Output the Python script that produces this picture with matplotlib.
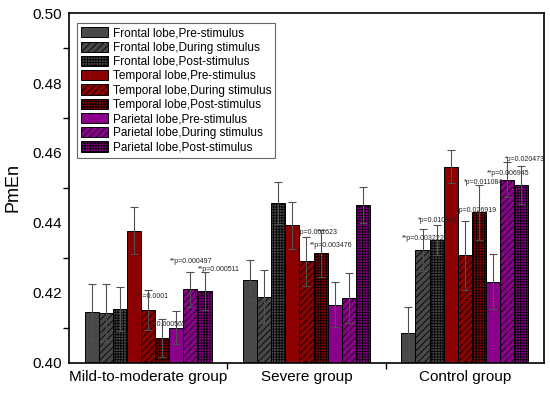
import matplotlib
matplotlib.use("Agg")
import matplotlib.pyplot as plt
import numpy as np
from matplotlib.ticker import MultipleLocator, FixedLocator

plt.rcParams['font.family'] = ['Liberation Sans', 'DejaVu Sans']
plt.rcParams['hatch.linewidth'] = 0.6

groups = ["Mild-to-moderate group", "Severe group", "Control group"]
series = ["Frontal lobe,Pre-stimulus", "Frontal lobe,During stimulus", "Frontal lobe,Post-stimulus",
          "Temporal lobe,Pre-stimulus", "Temporal lobe,During stimulus", "Temporal lobe,Post-stimulus",
          "Parietal lobe,Pre-stimulus", "Parietal lobe,During stimulus", "Parietal lobe,Post-stimulus"]

# rows = series, columns = groups
mild = [0.4147, 0.4144, 0.4154, 0.4378, 0.4151, 0.4072, 0.4101, 0.4211, 0.4205]
mild_err = [0.0080, 0.0083, 0.0062, 0.0068, 0.0058, 0.0055, 0.0048, 0.0050, 0.0054]
severe = [0.4237, 0.4189, 0.4456, 0.4393, 0.4291, 0.4313, 0.4166, 0.4186, 0.4451]
severe_err = [0.0057, 0.0076, 0.0060, 0.0067, 0.0070, 0.0067, 0.0064, 0.0072, 0.0052]
control = [0.4085, 0.4323, 0.4351, 0.4561, 0.4308, 0.4430, 0.4232, 0.4523, 0.4509]
control_err = [0.0074, 0.0060, 0.0042, 0.0048, 0.0099, 0.0079, 0.0079, 0.0050, 0.0055]

# p-value labels: (text, x, y) in data units
p_labels = ["*p=0.0001", "*p=0.000565", "**p=0.000497", "**p=0.000511",
            "*p=0.001623", "**p=0.003476",
            "**p=0.003222", "*p=0.010422", "*p=0.026919", "*p=0.011084", "**p=0.006945", "*p=0.020473"]
p_x = [0.929, 0.993, 1.138, 1.315, 1.946, 2.022, 2.603, 2.704, 2.951, 2.995, 3.140, 3.254]
p_y = [0.4189, 0.4111, 0.4289, 0.4268, 0.4372, 0.4337, 0.4356, 0.4407, 0.4437, 0.4515, 0.4540, 0.4582]

colors = ['#484848'] * 3 + ['#8b0000'] * 3 + ['#8b008b'] * 3
hatches = ['', '/////', '++++++'] * 3

vals = np.array([mild, severe, control]).T
errs = np.array([mild_err, severe_err, control_err]).T

fig = plt.figure(figsize=(5.5, 3.94), dpi=100)
ax = fig.add_axes([0.1255, 0.0787, 0.8635, 0.8883])

x = np.arange(1, len(groups) + 1)
w = 0.089
for i, name in enumerate(series):
    pos = x + (i - 4) * w
    ax.bar(pos, vals[i], w, bottom=0, color=colors[i], edgecolor='black', linewidth=0.7,
           hatch=hatches[i], label=name)
    ax.errorbar(pos, vals[i], yerr=errs[i], fmt='none', ecolor='#505050', elinewidth=0.8,
                capsize=3, capthick=0.8)

for t, px, py in zip(p_labels, p_x, p_y):
    ax.text(px, py, t, fontsize=5, ha='left', va='center', color='#222222')

ax.set_xlim(0.5, 3.5)
ax.set_ylim(0.40, 0.50)
ax.set_xticks(x)
ax.set_xticklabels(groups, fontsize=11)
ax.xaxis.set_minor_locator(FixedLocator([1.5, 2.5]))
ax.yaxis.set_major_locator(MultipleLocator(0.02))
ax.yaxis.set_minor_locator(FixedLocator([0.41, 0.43, 0.45, 0.47, 0.49]))
ax.set_yticklabels([f"{v:.2f}" for v in ax.get_yticks()], fontsize=11)
ax.tick_params(which='major', length=0, pad=5)
ax.tick_params(which='minor', direction='out', length=4, width=1)
ax.set_ylabel("PmEn", fontsize=13, labelpad=8)
for s in ax.spines.values():
    s.set_linewidth(1.2)

leg = ax.legend(loc='upper left', bbox_to_anchor=(0.017, 0.971), borderaxespad=0,
                fontsize=8.5, handlelength=2.25, handleheight=0.95, labelspacing=0.18,
                handletextpad=0.4, borderpad=0.35, fancybox=False, framealpha=1,
                edgecolor='#666666')
leg.get_frame().set_linewidth(0.8)

fig.savefig("out.png", dpi=100)
